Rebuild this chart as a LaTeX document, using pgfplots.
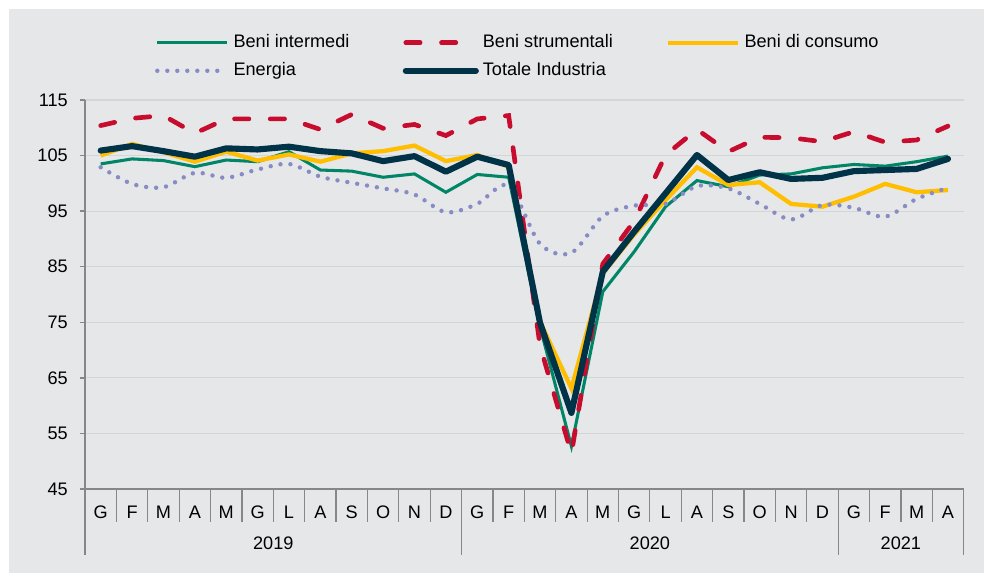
\documentclass[border=0pt]{standalone}
\usepackage{fontspec}
\setmainfont{Liberation Sans}
\usepackage{pgfplots}
\pgfplotsset{compat=1.18}
\definecolor{bg}{RGB}{230,231,233}
\definecolor{gridc}{RGB}{212,213,215}
\definecolor{axc}{RGB}{135,135,135}
\definecolor{cgreen}{RGB}{0,133,102}
\definecolor{cred}{RGB}{200,12,46}
\definecolor{cyel}{RGB}{255,190,0}
\definecolor{cen}{RGB}{136,140,196}
\definecolor{cnavy}{RGB}{0,50,72}
\begin{document}
\begin{tikzpicture}[x=1pt,y=1pt,font=\fontsize{13.6pt}{16pt}\selectfont]
\path[use as bounding box] (0,0) rectangle (738,-429.75);
\fill[white] (0,0) rectangle (738,-429.75);
\fill[bg] (6.75,-6.75) rectangle (738,-429.75);
\begin{axis}[
  at={(63.75pt,-366.75pt)}, anchor=south west,
  width=659pt, height=291.75pt, scale only axis,
  xmin=-0.5, xmax=27.5, ymin=45, ymax=115,
  ytick={45,55,...,115},
  xtick={0,...,27},
  xticklabels={G,F,M,A,M,G,L,A,S,O,N,D,G,F,M,A,M,G,L,A,S,O,N,D,G,F,M,A},
  axis x line*=bottom, axis y line*=left,
  axis line style={axc, line width=1.3pt},
  ymajorgrids, grid style={gridc, line width=0.9pt},
  xtick style={draw=none},
  ytick style={axc, line width=1pt},
  tick align=outside, major tick length=3.75pt,
  yticklabel style={anchor=east, inner sep=0pt, xshift=-9pt},
  xticklabel style={anchor=base, inner sep=0pt, yshift=-18.2pt},
  /pgf/number format/assume math mode=true,
  clip=false,
  legend columns=3,
  legend cell align=left,
  legend image code/.code={\draw[#1] (0pt,0pt) -- (52.5pt,0pt);},
  legend style={at={(rel axis cs:0.0795,1.17)}, anchor=north west, draw=none, fill=none,
    inner sep=0pt, row sep=8pt,
    nodes={inner xsep=0pt, inner ysep=0pt, text height=10pt, text depth=3pt},
    /tikz/every odd column/.append style={column sep=3pt},
    /tikz/every even column/.append style={column sep=40pt}},
]
\addplot[cgreen, line width=2.3pt] coordinates {
(0,103.5)(1,104.4)(2,104.1)(3,103.0)(4,104.2)(5,103.9)(6,105.7)(7,102.4)(8,102.2)(9,101.1)(10,101.7)(11,98.4)
(12,101.6)(13,101.1)(14,74.2)(15,52.7)(16,80.5)(17,87.7)(18,95.8)(19,100.5)(20,99.4)(21,101.5)(22,101.7)(23,102.8)
(24,103.4)(25,103.1)(26,103.9)(27,104.9)};
\addlegendentry{Beni intermedi}
\addplot[cred, line width=3.5pt, line cap=round, dash pattern=on 10.75pt off 16pt] coordinates {
(0,110.4)(1,111.7)(2,112.2)(3,109.0)(4,111.6)(5,111.6)(6,111.6)(7,109.7)(8,112.4)(9,109.9)(10,110.6)(11,108.6)
(12,111.6)(13,112.2)(14,70.8)(15,51.4)(16,85.5)(17,93.2)(18,105.1)(19,109.7)(20,105.7)(21,108.3)(22,108.2)(23,107.5)
(24,109.3)(25,107.4)(26,107.8)(27,110.3)};
\addlegendentry{Beni strumentali}
\addplot[cyel, line width=3.2pt] coordinates {
(0,105.0)(1,107.1)(2,105.6)(3,103.9)(4,105.7)(5,104.1)(6,105.2)(7,103.9)(8,105.4)(9,105.8)(10,106.8)(11,104.0)
(12,105.1)(13,103.0)(14,75.1)(15,63.1)(16,83.8)(17,90.8)(18,97.0)(19,102.9)(20,99.7)(21,100.2)(22,96.3)(23,95.8)
(24,97.6)(25,99.9)(26,98.4)(27,98.8)};
\addlegendentry{Beni di consumo}
\addplot[cen, line width=3.3pt, line cap=round, dash pattern=on 0pt off 7.5pt, smooth, tension=0.5] coordinates {
(0,102.9)(1,99.9)(2,99.3)(3,101.9)(4,101.0)(5,102.5)(6,103.5)(7,101.2)(8,100.1)(9,99.1)(10,98.0)(11,94.8)
(12,96.3)(13,99.6)(14,89.1)(15,87.5)(16,94.1)(17,96.0)(18,96.3)(19,99.5)(20,99.1)(21,96.3)(22,93.5)(23,96.1)
(24,95.6)(25,94.0)(26,97.2)(27,99.2)};
\addlegendentry{Energia}
\addplot[cnavy, line width=4.6pt, line cap=round, line join=round] coordinates {
(0,105.9)(1,106.7)(2,105.8)(3,104.8)(4,106.3)(5,106.1)(6,106.6)(7,105.8)(8,105.4)(9,104.0)(10,104.9)(11,102.1)
(12,104.8)(13,103.3)(14,74.9)(15,58.7)(16,84.1)(17,91.3)(18,98.2)(19,105.1)(20,100.6)(21,102.0)(22,100.8)(23,101.0)
(24,102.2)(25,102.4)(26,102.6)(27,104.4)};
\addlegendentry{Totale Industria}
\pgfplotsinvokeforeach{-0.5,0.5,...,27.5}{
  \draw[axc, line width=0.9pt] (axis cs:#1,45) -- ++(0pt,-24.75pt);
}
\pgfplotsinvokeforeach{-0.5,11.5,23.5,27.5}{
  \draw[axc, line width=0.9pt] (axis cs:#1,45) -- ++(0pt,-49.5pt);
}
\node[anchor=base, inner sep=0pt] at ([yshift=-45.4pt]axis cs:5.5,45) {2019};
\node[anchor=base, inner sep=0pt] at ([yshift=-45.4pt]axis cs:17.5,45) {2020};
\node[anchor=base, inner sep=0pt] at ([yshift=-45.4pt]axis cs:25.5,45) {2021};
\end{axis}
\end{tikzpicture}
\end{document}
